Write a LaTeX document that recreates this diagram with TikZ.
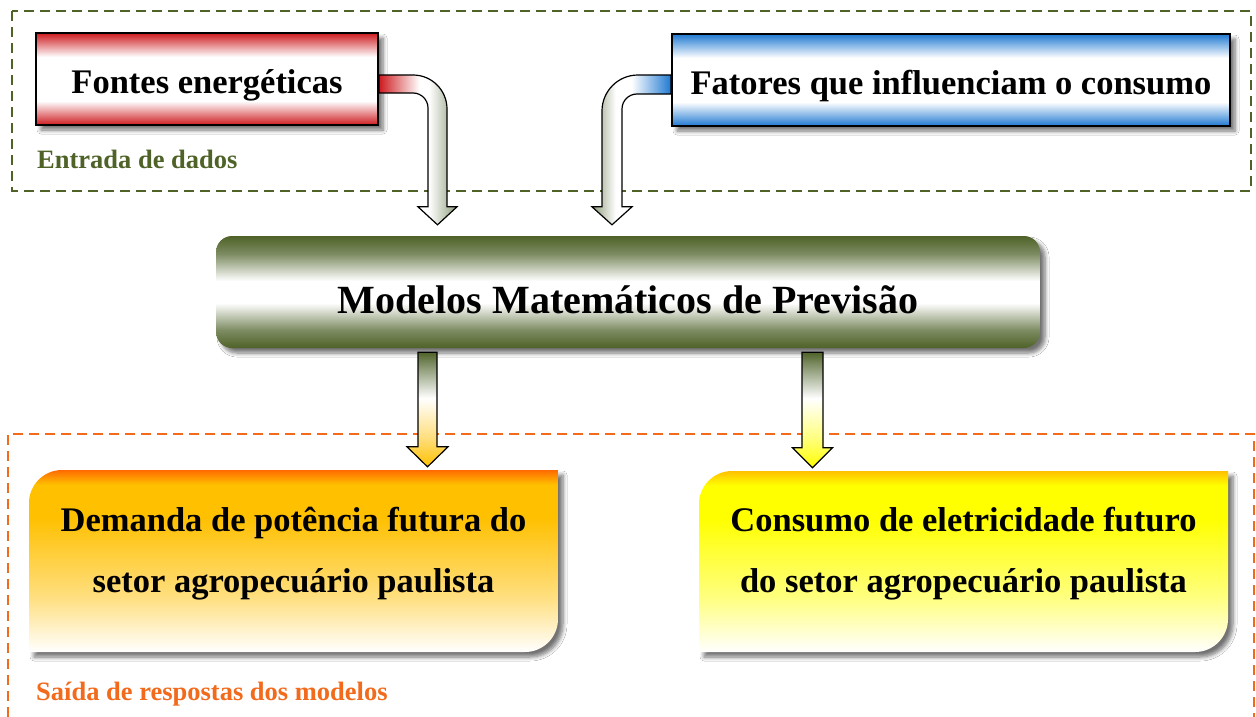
\documentclass[tikz,border=0pt]{standalone}
\usepackage{fontspec}
\setmainfont{Liberation Serif}
\usetikzlibrary{calc,shadows.blur}
\definecolor{dgreen}{HTML}{4F6228}
\definecolor{midgreen}{HTML}{7D8C62}
\definecolor{agr}{HTML}{8E9C7A}
\definecolor{rbar}{HTML}{CE1B1F}
\definecolor{bbar}{HTML}{1F79D2}
\definecolor{orng}{HTML}{F26B1D}
\definecolor{borng}{HTML}{FF6A00}
\definecolor{gold}{HTML}{FFC000}
\definecolor{lgold}{HTML}{FFDF80}
\definecolor{ylw}{HTML}{FFFF00}
\definecolor{lylw}{HTML}{FFFF80}
\pgfdeclareverticalshading{redbar}{100bp}{color(0bp)=(rbar); color(25bp)=(rbar); color(38bp)=(white); color(62bp)=(white); color(75bp)=(rbar); color(100bp)=(rbar)}
\pgfdeclareverticalshading{bluebar}{100bp}{color(0bp)=(bbar); color(25bp)=(bbar); color(38bp)=(white); color(62bp)=(white); color(75bp)=(bbar); color(100bp)=(bbar)}
\pgfdeclareverticalshading{greenbar}{100bp}{color(0bp)=(dgreen); color(25bp)=(dgreen); color(33bp)=(midgreen); color(45bp)=(white); color(55bp)=(white); color(67bp)=(midgreen); color(75bp)=(dgreen); color(100bp)=(dgreen)}
\pgfdeclareverticalshading{orangebox}{100bp}{color(0bp)=(white); color(25bp)=(white); color(40bp)=(lgold); color(62bp)=(gold); color(71bp)=(gold); color(75bp)=(borng); color(100bp)=(borng)}
\pgfdeclareverticalshading{yellowbox}{100bp}{color(0bp)=(white); color(25bp)=(white); color(40bp)=(lylw); color(62bp)=(ylw); color(71bp)=(ylw); color(75bp)=(gold); color(100bp)=(gold)}
\pgfdeclareverticalshading{garrowO}{100bp}{color(0bp)=(gold); color(25bp)=(gold); color(38bp)=(lgold); color(55bp)=(white); color(70bp)=(midgreen); color(75bp)=(dgreen); color(100bp)=(dgreen)}
\pgfdeclareverticalshading{garrowY}{100bp}{color(0bp)=(ylw); color(25bp)=(ylw); color(38bp)=(lylw); color(55bp)=(white); color(70bp)=(midgreen); color(75bp)=(dgreen); color(100bp)=(dgreen)}
\pgfdeclarehorizontalshading{redarr}{100bp}{color(0bp)=(rbar); color(25bp)=(rbar); color(51bp)=(white); color(57bp)=(white); color(75bp)=(agr); color(100bp)=(agr)}
\pgfdeclarehorizontalshading{bluearr}{100bp}{color(0bp)=(agr); color(25bp)=(agr); color(40bp)=(white); color(50bp)=(white); color(75bp)=(bbar); color(100bp)=(bbar)}
\tikzset{
  blurred/.style={blur shadow={shadow xshift=5pt, shadow yshift=-5pt, shadow blur radius=4pt, shadow blur steps=6, shadow opacity=55}},
  topbox/.style={draw=black, line width=2pt, shade, minimum height=92pt, inner sep=0pt,
    font=\fontsize{34.5pt}{40pt}\selectfont\bfseries, text height=28pt, text depth=0pt, blurred},
  lowtext/.style={align=center, inner sep=0pt, minimum height=168pt,
    font=\fontsize{34.5pt}{61pt}\selectfont\bfseries},
  arrowline/.style={draw=black, line width=1.2pt, shade, line join=miter},
  gdash/.style={draw=dgreen, line width=1.8pt, dash pattern=on 10pt off 6pt},
  odash/.style={draw=orng, line width=1.8pt, dash pattern=on 10pt off 6pt},
  grouplabel/.style={anchor=base west, inner sep=0pt, font=\fontsize{26.5pt}{30pt}\selectfont\bfseries}
}
\begin{document}
\begin{tikzpicture}[x=1pt,y=-1pt]
\useasboundingbox (0,0) rectangle (1256,717);
\fill[white] (0,0) rectangle (1256,717);
% group frames
\draw[gdash] (12,11) rectangle (1251,191);
\draw[odash] (8,717) -- (8,434) -- (1254,434) -- (1254,717);
% top boxes
\node[topbox, shading=redbar, minimum width=342pt] (fontes) at (207,79) {Fontes energéticas};
\node[topbox, shading=bluebar, minimum width=558pt] (fatores) at (951,80) {Fatores que influenciam o consumo};
\node[grouplabel, text=dgreen] (entrada) at (37,168) {Entrada de dados};
% model box
\node[shade, shading=greenbar, rounded corners=16pt, minimum width=824pt, minimum height=112pt, inner sep=0pt, blurred,
  font=\fontsize{40pt}{46pt}\selectfont\bfseries, text height=42pt, text depth=0pt] (modelo) at (628,292) {Modelos Matemáticos de Previsão};
% lower boxes
\path[shade, shading=orangebox, blurred] (29,503) .. controls (29,484.8) and (43.8,470) .. (62,470) -- (558,470) -- (558,619) .. controls (558,637.2) and (543.2,652) .. (525,652) -- (29,652) -- cycle;
\path[shade, shading=yellowbox, blurred] (699,504) .. controls (699,485.8) and (713.8,471) .. (732,471) -- (1228,471) -- (1228,619) .. controls (1228,637.2) and (1213.2,652) .. (1195,652) -- (699,652) -- cycle;
\node[lowtext, minimum width=529pt] (demanda) at (293.5,554) {Demanda de potência futura do\\setor agropecuário paulista};
\node[lowtext, minimum width=529pt] (consumo) at (963.5,554) {Consumo de eletricidade futuro\\do setor agropecuário paulista};
\node[grouplabel, text=orng] (saida) at (36,700) {Saída de respostas dos modelos};
% bent arrows
\path[arrowline, shading=redarr] let \p1=(fontes.east), \p2=(modelo.north),
  \p3=(\x2-190.5pt,\y2+11pt), \p4=(\x1,\y1+4pt), \p5=(\x1,\y1-14pt) in
  (\p4) -- (\x3-24.5pt,\y4) .. controls (\x3-5.7pt,\y4) and (\x3+9.5pt,\y4-15.2pt) .. (\x3+9.5pt,\y4-34pt)
  -- (\x3+9.5pt,\y3+18pt) -- (\x3+19.5pt,\y3+18pt) -- (\p3) -- (\x3-19.5pt,\y3+18pt) -- (\x3-9.5pt,\y3+18pt)
  -- (\x3-9.5pt,\y5-15pt) .. controls (\x3-9.5pt,\y5-6.7pt) and (\x3-16.2pt,\y5) .. (\x3-24.5pt,\y5) -- (\p5) -- cycle;
\path[arrowline, shading=bluearr] let \p1=(fatores.west), \p2=(modelo.north),
  \p3=(\x2-16pt,\y2+11pt), \p4=(\x1,\y1+5pt), \p5=(\x1,\y1-14pt) in
  (\p4) -- (\x3+26pt,\y4) .. controls (\x3+6.1pt,\y4) and (\x3-10pt,\y4-16.1pt) .. (\x3-10pt,\y4-36pt)
  -- (\x3-10pt,\y3+18pt) -- (\x3-20pt,\y3+18pt) -- (\p3) -- (\x3+20pt,\y3+18pt) -- (\x3+10pt,\y3+18pt)
  -- (\x3+10pt,\y5-15pt) .. controls (\x3+10pt,\y5-6.7pt) and (\x3+16.7pt,\y5) .. (\x3+25pt,\y5) -- (\p5) -- cycle;
% down arrows
\path[arrowline, shading=garrowO] let \p1=(modelo.south), \p2=(demanda.north) in
  (\x1-210pt,\y1-4pt) -- (\x1-191pt,\y1-4pt) -- (\x1-191pt,\y2+23pt) -- (\x1-180pt,\y2+23pt)
  -- (\x1-200.5pt,\y2+3pt) -- (\x1-221pt,\y2+23pt) -- (\x1-210pt,\y2+23pt) -- cycle;
\path[arrowline, shading=garrowY] let \p1=(modelo.south), \p2=(consumo.north) in
  (\x1+174pt,\y1-4pt) -- (\x1+195pt,\y1-4pt) -- (\x1+195pt,\y2+22pt) -- (\x1+204.5pt,\y2+22pt)
  -- (\x1+184.5pt,\y2+2pt) -- (\x1+164.5pt,\y2+22pt) -- (\x1+174pt,\y2+22pt) -- cycle;
\end{tikzpicture}
\end{document}
